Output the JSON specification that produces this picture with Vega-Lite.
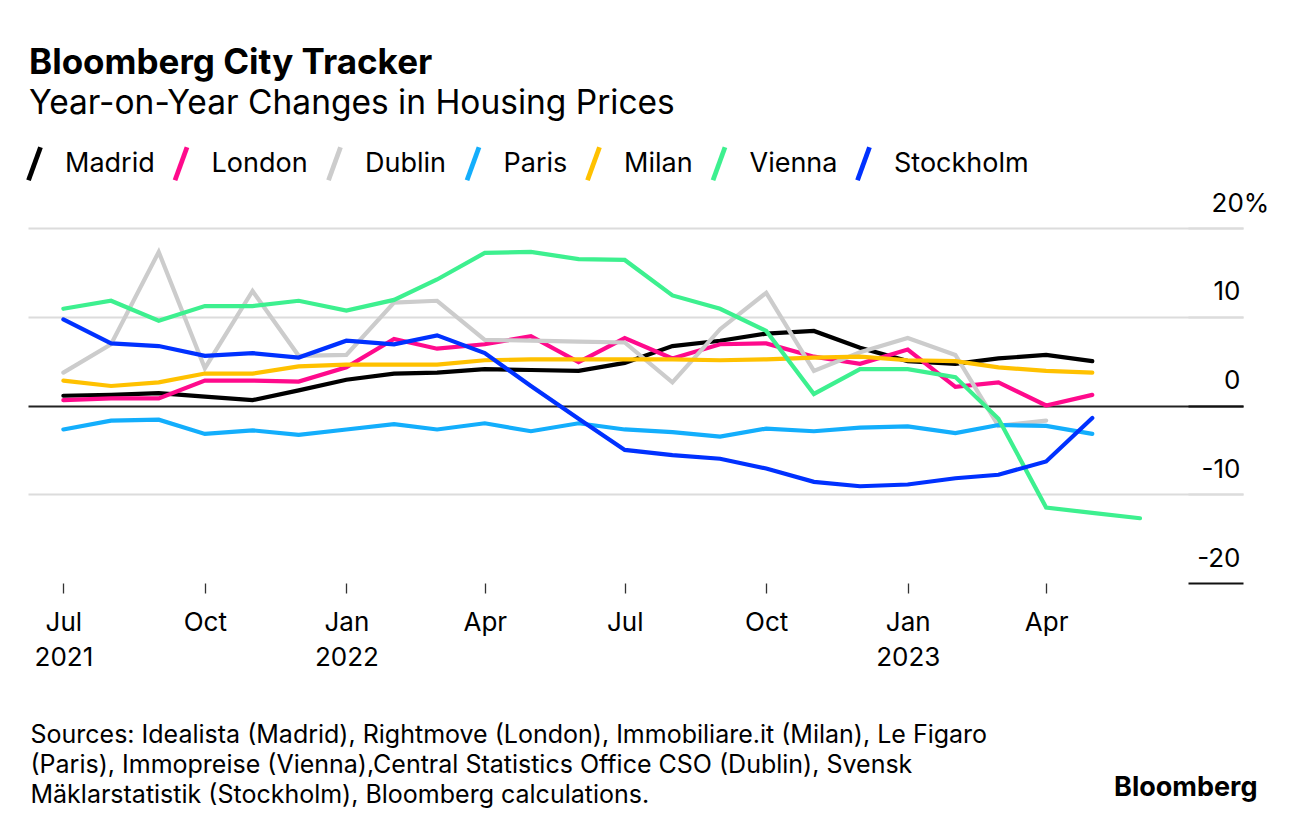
{
  "$schema": "https://vega.github.io/schema/vega-lite/v6.json",
  "width": 1215,
  "height": 355,
  "autosize": {"type": "none"},
  "padding": {"left": 28, "top": 228, "right": 53, "bottom": 249},
  "background": "#ffffff",
  "title": {
    "text": "Bloomberg City Tracker",
    "subtitle": "Year-on-Year Changes in Housing Prices",
    "anchor": "start",
    "frame": "group",
    "font": "Inter",
    "fontSize": 35,
    "fontWeight": "bold",
    "color": "#000000",
    "subtitleFont": "Inter",
    "subtitleFontSize": 33.5,
    "subtitleFontWeight": "normal",
    "subtitleColor": "#000000",
    "subtitlePadding": 7,
    "offset": 26,
    "dx": 1
  },
  "data": {
    "values": [
      {"date": "2021-07-01", "city": "Madrid", "value": 1.1},
      {"date": "2021-08-01", "city": "Madrid", "value": 1.2},
      {"date": "2021-09-01", "city": "Madrid", "value": 1.4},
      {"date": "2021-10-01", "city": "Madrid", "value": 1.0},
      {"date": "2021-11-01", "city": "Madrid", "value": 0.6},
      {"date": "2021-12-01", "city": "Madrid", "value": 1.7},
      {"date": "2022-01-01", "city": "Madrid", "value": 2.9},
      {"date": "2022-02-01", "city": "Madrid", "value": 3.6},
      {"date": "2022-03-01", "city": "Madrid", "value": 3.7},
      {"date": "2022-04-01", "city": "Madrid", "value": 4.1},
      {"date": "2022-05-01", "city": "Madrid", "value": 4.0},
      {"date": "2022-06-01", "city": "Madrid", "value": 3.9},
      {"date": "2022-07-01", "city": "Madrid", "value": 4.8},
      {"date": "2022-08-01", "city": "Madrid", "value": 6.7},
      {"date": "2022-09-01", "city": "Madrid", "value": 7.3},
      {"date": "2022-10-01", "city": "Madrid", "value": 8.1},
      {"date": "2022-11-01", "city": "Madrid", "value": 8.4},
      {"date": "2022-12-01", "city": "Madrid", "value": 6.5},
      {"date": "2023-01-01", "city": "Madrid", "value": 5.0},
      {"date": "2023-02-01", "city": "Madrid", "value": 4.7},
      {"date": "2023-03-01", "city": "Madrid", "value": 5.3},
      {"date": "2023-04-01", "city": "Madrid", "value": 5.7},
      {"date": "2023-05-01", "city": "Madrid", "value": 5.0},

      {"date": "2021-07-01", "city": "London", "value": 0.6},
      {"date": "2021-08-01", "city": "London", "value": 0.8},
      {"date": "2021-09-01", "city": "London", "value": 0.8},
      {"date": "2021-10-01", "city": "London", "value": 2.8},
      {"date": "2021-11-01", "city": "London", "value": 2.8},
      {"date": "2021-12-01", "city": "London", "value": 2.7},
      {"date": "2022-01-01", "city": "London", "value": 4.3},
      {"date": "2022-02-01", "city": "London", "value": 7.5},
      {"date": "2022-03-01", "city": "London", "value": 6.4},
      {"date": "2022-04-01", "city": "London", "value": 6.9},
      {"date": "2022-05-01", "city": "London", "value": 7.8},
      {"date": "2022-06-01", "city": "London", "value": 4.9},
      {"date": "2022-07-01", "city": "London", "value": 7.6},
      {"date": "2022-08-01", "city": "London", "value": 5.3},
      {"date": "2022-09-01", "city": "London", "value": 6.9},
      {"date": "2022-10-01", "city": "London", "value": 7.0},
      {"date": "2022-11-01", "city": "London", "value": 5.5},
      {"date": "2022-12-01", "city": "London", "value": 4.7},
      {"date": "2023-01-01", "city": "London", "value": 6.3},
      {"date": "2023-02-01", "city": "London", "value": 2.1},
      {"date": "2023-03-01", "city": "London", "value": 2.6},
      {"date": "2023-04-01", "city": "London", "value": 0.0},
      {"date": "2023-05-01", "city": "London", "value": 1.2},

      {"date": "2021-07-01", "city": "Dublin", "value": 3.7},
      {"date": "2021-08-01", "city": "Dublin", "value": 6.9},
      {"date": "2021-09-01", "city": "Dublin", "value": 17.3},
      {"date": "2021-10-01", "city": "Dublin", "value": 4.2},
      {"date": "2021-11-01", "city": "Dublin", "value": 12.9},
      {"date": "2021-12-01", "city": "Dublin", "value": 5.6},
      {"date": "2022-01-01", "city": "Dublin", "value": 5.7},
      {"date": "2022-02-01", "city": "Dublin", "value": 11.6},
      {"date": "2022-03-01", "city": "Dublin", "value": 11.8},
      {"date": "2022-04-01", "city": "Dublin", "value": 7.4},
      {"date": "2022-05-01", "city": "Dublin", "value": 7.3},
      {"date": "2022-06-01", "city": "Dublin", "value": 7.2},
      {"date": "2022-07-01", "city": "Dublin", "value": 7.1},
      {"date": "2022-08-01", "city": "Dublin", "value": 2.6},
      {"date": "2022-09-01", "city": "Dublin", "value": 8.6},
      {"date": "2022-10-01", "city": "Dublin", "value": 12.7},
      {"date": "2022-11-01", "city": "Dublin", "value": 3.9},
      {"date": "2022-12-01", "city": "Dublin", "value": 6.0},
      {"date": "2023-01-01", "city": "Dublin", "value": 7.6},
      {"date": "2023-02-01", "city": "Dublin", "value": 5.7},
      {"date": "2023-03-01", "city": "Dublin", "value": -2.3},
      {"date": "2023-04-01", "city": "Dublin", "value": -1.7},

      {"date": "2021-07-01", "city": "Paris", "value": -2.7},
      {"date": "2021-08-01", "city": "Paris", "value": -1.7},
      {"date": "2021-09-01", "city": "Paris", "value": -1.6},
      {"date": "2021-10-01", "city": "Paris", "value": -3.2},
      {"date": "2021-11-01", "city": "Paris", "value": -2.8},
      {"date": "2021-12-01", "city": "Paris", "value": -3.3},
      {"date": "2022-01-01", "city": "Paris", "value": -2.7},
      {"date": "2022-02-01", "city": "Paris", "value": -2.1},
      {"date": "2022-03-01", "city": "Paris", "value": -2.7},
      {"date": "2022-04-01", "city": "Paris", "value": -2.0},
      {"date": "2022-05-01", "city": "Paris", "value": -2.9},
      {"date": "2022-06-01", "city": "Paris", "value": -2.0},
      {"date": "2022-07-01", "city": "Paris", "value": -2.7},
      {"date": "2022-08-01", "city": "Paris", "value": -3.0},
      {"date": "2022-09-01", "city": "Paris", "value": -3.5},
      {"date": "2022-10-01", "city": "Paris", "value": -2.6},
      {"date": "2022-11-01", "city": "Paris", "value": -2.9},
      {"date": "2022-12-01", "city": "Paris", "value": -2.5},
      {"date": "2023-01-01", "city": "Paris", "value": -2.35},
      {"date": "2023-02-01", "city": "Paris", "value": -3.1},
      {"date": "2023-03-01", "city": "Paris", "value": -2.2},
      {"date": "2023-04-01", "city": "Paris", "value": -2.3},
      {"date": "2023-05-01", "city": "Paris", "value": -3.2},

      {"date": "2021-07-01", "city": "Milan", "value": 2.8},
      {"date": "2021-08-01", "city": "Milan", "value": 2.2},
      {"date": "2021-09-01", "city": "Milan", "value": 2.6},
      {"date": "2021-10-01", "city": "Milan", "value": 3.6},
      {"date": "2021-11-01", "city": "Milan", "value": 3.6},
      {"date": "2021-12-01", "city": "Milan", "value": 4.4},
      {"date": "2022-01-01", "city": "Milan", "value": 4.6},
      {"date": "2022-02-01", "city": "Milan", "value": 4.6},
      {"date": "2022-03-01", "city": "Milan", "value": 4.6},
      {"date": "2022-04-01", "city": "Milan", "value": 5.1},
      {"date": "2022-05-01", "city": "Milan", "value": 5.2},
      {"date": "2022-06-01", "city": "Milan", "value": 5.2},
      {"date": "2022-07-01", "city": "Milan", "value": 5.2},
      {"date": "2022-08-01", "city": "Milan", "value": 5.2},
      {"date": "2022-09-01", "city": "Milan", "value": 5.1},
      {"date": "2022-10-01", "city": "Milan", "value": 5.2},
      {"date": "2022-11-01", "city": "Milan", "value": 5.4},
      {"date": "2022-12-01", "city": "Milan", "value": 5.5},
      {"date": "2023-01-01", "city": "Milan", "value": 5.1},
      {"date": "2023-02-01", "city": "Milan", "value": 5.0},
      {"date": "2023-03-01", "city": "Milan", "value": 4.3},
      {"date": "2023-04-01", "city": "Milan", "value": 3.9},
      {"date": "2023-05-01", "city": "Milan", "value": 3.7},

      {"date": "2021-07-01", "city": "Vienna", "value": 10.9},
      {"date": "2021-08-01", "city": "Vienna", "value": 11.8},
      {"date": "2021-09-01", "city": "Vienna", "value": 9.55},
      {"date": "2021-10-01", "city": "Vienna", "value": 11.2},
      {"date": "2021-11-01", "city": "Vienna", "value": 11.2},
      {"date": "2021-12-01", "city": "Vienna", "value": 11.8},
      {"date": "2022-01-01", "city": "Vienna", "value": 10.7},
      {"date": "2022-02-01", "city": "Vienna", "value": 11.9},
      {"date": "2022-03-01", "city": "Vienna", "value": 14.2},
      {"date": "2022-04-01", "city": "Vienna", "value": 17.2},
      {"date": "2022-05-01", "city": "Vienna", "value": 17.3},
      {"date": "2022-06-01", "city": "Vienna", "value": 16.5},
      {"date": "2022-07-01", "city": "Vienna", "value": 16.4},
      {"date": "2022-08-01", "city": "Vienna", "value": 12.4},
      {"date": "2022-09-01", "city": "Vienna", "value": 10.9},
      {"date": "2022-10-01", "city": "Vienna", "value": 8.4},
      {"date": "2022-11-01", "city": "Vienna", "value": 1.3},
      {"date": "2022-12-01", "city": "Vienna", "value": 4.1},
      {"date": "2023-01-01", "city": "Vienna", "value": 4.1},
      {"date": "2023-02-01", "city": "Vienna", "value": 3.2},
      {"date": "2023-03-01", "city": "Vienna", "value": -1.5},
      {"date": "2023-04-01", "city": "Vienna", "value": -11.5},
      {"date": "2023-05-01", "city": "Vienna", "value": -12.1},
      {"date": "2023-06-01", "city": "Vienna", "value": -12.7},

      {"date": "2021-07-01", "city": "Stockholm", "value": 9.7},
      {"date": "2021-08-01", "city": "Stockholm", "value": 7.0},
      {"date": "2021-09-01", "city": "Stockholm", "value": 6.7},
      {"date": "2021-10-01", "city": "Stockholm", "value": 5.6},
      {"date": "2021-11-01", "city": "Stockholm", "value": 5.9},
      {"date": "2021-12-01", "city": "Stockholm", "value": 5.4},
      {"date": "2022-01-01", "city": "Stockholm", "value": 7.3},
      {"date": "2022-02-01", "city": "Stockholm", "value": 6.9},
      {"date": "2022-03-01", "city": "Stockholm", "value": 7.9},
      {"date": "2022-04-01", "city": "Stockholm", "value": 5.9},
      {"date": "2022-05-01", "city": "Stockholm", "value": 2.2},
      {"date": "2022-06-01", "city": "Stockholm", "value": -1.5},
      {"date": "2022-07-01", "city": "Stockholm", "value": -5.0},
      {"date": "2022-08-01", "city": "Stockholm", "value": -5.6},
      {"date": "2022-09-01", "city": "Stockholm", "value": -6.0},
      {"date": "2022-10-01", "city": "Stockholm", "value": -7.1},
      {"date": "2022-11-01", "city": "Stockholm", "value": -8.6},
      {"date": "2022-12-01", "city": "Stockholm", "value": -9.1},
      {"date": "2023-01-01", "city": "Stockholm", "value": -8.9},
      {"date": "2023-02-01", "city": "Stockholm", "value": -8.2},
      {"date": "2023-03-01", "city": "Stockholm", "value": -7.8},
      {"date": "2023-04-01", "city": "Stockholm", "value": -6.3},
      {"date": "2023-05-01", "city": "Stockholm", "value": -1.4}
    ]
  },
  "mark": {"type": "line", "strokeWidth": 4.2, "strokeCap": "round", "strokeJoin": "miter", "clip": false},
  "encoding": {
    "x": {
      "field": "date",
      "type": "temporal",
      "scale": {
        "type": "utc",
        "domain": [
          {"year": 2021, "month": 6, "date": 8, "utc": true},
          {"year": 2023, "month": 8, "date": 7, "utc": true}
        ]
      },
      "axis": {
        "values": [
          {"year": 2021, "month": 7, "date": 1, "utc": true},
          {"year": 2021, "month": 10, "date": 1, "utc": true},
          {"year": 2022, "month": 1, "date": 1, "utc": true},
          {"year": 2022, "month": 4, "date": 1, "utc": true},
          {"year": 2022, "month": 7, "date": 1, "utc": true},
          {"year": 2022, "month": 10, "date": 1, "utc": true},
          {"year": 2023, "month": 1, "date": 1, "utc": true},
          {"year": 2023, "month": 4, "date": 1, "utc": true}
        ],
        "labelExpr": "(utcFormat(datum.value, '%m') == '01' || utcFormat(datum.value, '%Y-%m') == '2021-07') ? [utcFormat(datum.value, '%b'), utcFormat(datum.value, '%Y')] : utcFormat(datum.value, '%b')",
        "domain": false,
        "grid": false,
        "ticks": true,
        "tickSize": 10,
        "tickColor": "#333333",
        "tickWidth": 1.3,
        "labelFont": "Inter",
        "labelFontSize": 26,
        "labelColor": "#000000",
        "labelPadding": 16,
        "labelBaseline": "top",
        "labelLineHeight": 35,
        "labelOverlap": false,
        "labelFlush": false,
        "title": [
          "Sources: Idealista (Madrid), Rightmove (London), Immobiliare.it (Milan), Le Figaro",
          "(Paris), Immopreise (Vienna),Central Statistics Office CSO (Dublin), Svensk",
          "Mäklarstatistik (Stockholm), Bloomberg calculations."
        ],
        "titleFont": "Inter",
        "titleFontSize": 25,
        "titleFontWeight": "normal",
        "titleColor": "#000000",
        "titleAnchor": "start",
        "titleAlign": "left",
        "titleBaseline": "alphabetic",
        "titleLineHeight": 30,
        "titleX": 2,
        "titleY": 159
      }
    },
    "y": {
      "field": "value",
      "type": "quantitative",
      "scale": {"domain": [-20, 20], "nice": false, "zero": false},
      "axis": {
        "orient": "right",
        "values": [-20, -10, 0, 10, 20],
        "domain": false,
        "grid": true,
        "gridColor": {"condition": {"test": "datum.value === 0", "value": "#222222"}, "value": "#dcdcdc"},
        "gridOpacity": {"condition": {"test": "datum.value === -20", "value": 0}, "value": 1},
        "gridWidth": 2,
        "ticks": true,
        "tickSize": -55,
        "tickWidth": 2,
        "tickColor": {"condition": {"test": "datum.value <= 0 && datum.value !== -10", "value": "#111111"}, "value": "#dcdcdc"},
        "labelExpr": "datum.value === 20 ? '20%' : toString(datum.value)",
        "labelAlign": {"condition": {"test": "datum.value === 20", "value": "center"}, "value": "right"},
        "labelBaseline": "alphabetic",
        "labelOffset": -17,
        "labelPadding": 52,
        "labelFont": "Inter",
        "labelFontSize": 26,
        "labelColor": "#000000",
        "labelOverlap": false,
        "labelFlush": false,
        "title": "Bloomberg",
        "titleAngle": 0,
        "titleFont": "Inter",
        "titleFontSize": 27,
        "titleFontWeight": "bold",
        "titleColor": "#000000",
        "titleAlign": "right",
        "titleBaseline": "alphabetic",
        "titleX": 14,
        "titleY": 567
      }
    },
    "color": {
      "field": "city",
      "type": "nominal",
      "scale": {
        "domain": ["Madrid", "London", "Dublin", "Paris", "Milan", "Vienna", "Stockholm"],
        "range": ["#000000", "#ff0a8c", "#cccccc", "#13aefc", "#ffc100", "#3df08f", "#0031ff"]
      },
      "legend": {
        "orient": "none",
        "legendX": -11,
        "legendY": -82,
        "direction": "horizontal",
        "title": null,
        "padding": 0,
        "symbolType": "M-0.4,1.1L0.4,-1.1",
        "symbolSize": 900,
        "symbolStrokeWidth": 4.8,
        "labelFont": "Inter",
        "labelFontSize": 27,
        "labelColor": "#000000",
        "labelOffset": 13,
        "columnPadding": 8.5,
        "labelLimit": 300
      }
    }
  },
  "config": {
    "view": {"stroke": null},
    "font": "Inter"
  }
}
